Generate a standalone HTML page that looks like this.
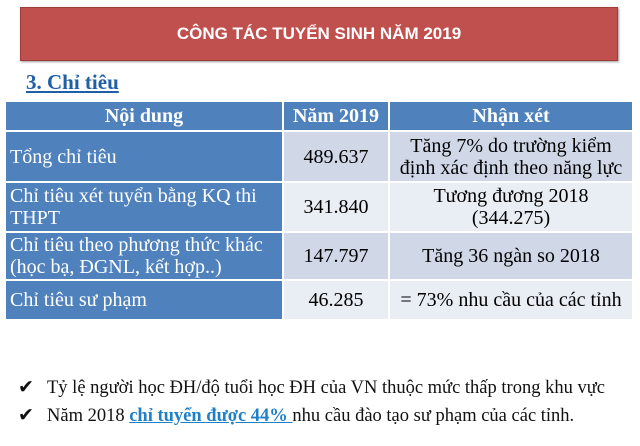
<!DOCTYPE html>
<html><head><meta charset="utf-8"><style>
body{margin:0;width:640px;height:446px;background:#fff;position:relative;overflow:hidden;font-family:"Liberation Serif",serif}
.banner{position:absolute;left:20px;top:7px;width:598px;height:54px;background:#c0504d;border:1px solid #a03c39;box-sizing:border-box;color:#fff;font:bold 17px "Liberation Sans",sans-serif;text-align:center;line-height:52px;box-shadow:1px 1px 2px #999}
.h3{position:absolute;left:26px;top:70px;font-weight:bold;font-size:21px;color:#1f5fa8;text-decoration:underline}
table{position:absolute;left:4px;top:100px;width:630px;border-collapse:collapse;font-size:20px}
td{border:2px solid #fff;padding:0 4px;line-height:22px}
.hd td{background:#4f81bd;color:#fff;font-weight:bold;text-align:center;height:28px}
.c1{background:#4f81bd;color:#fff;width:268px}
.a td.v{background:#d0d8e8;text-align:center}
.b td.v{background:#e9edf4;text-align:center}
.bl{position:absolute;left:18px;font-size:18.5px;color:#111;white-space:nowrap}
.bl span.ck{display:inline-block;width:29px;font-family:"DejaVu Sans",sans-serif;font-size:19px}
a{color:#1f7fc8;font-weight:bold;text-decoration:underline}
</style></head><body>
<div class="banner">CÔNG TÁC TUYỂN SINH NĂM 2019</div>
<div class="h3">3. Chỉ tiêu</div>
<table>
<tr class="hd"><td style="width:268px">Nội dung</td><td style="width:96px">Năm 2019</td><td>Nhận xét</td></tr>
<tr class="a" style="height:51px"><td class="c1">Tổng chỉ tiêu</td><td class="v">489.637</td><td class="v">Tăng 7% do trường kiểm định xác định theo năng lực</td></tr>
<tr class="b" style="height:50px"><td class="c1">Chỉ tiêu xét tuyển bằng KQ thi THPT</td><td class="v">341.840</td><td class="v">Tương đương 2018<br>(344.275)</td></tr>
<tr class="a" style="height:48px"><td class="c1">Chỉ tiêu theo phương thức khác (học bạ, ĐGNL, kết hợp..)</td><td class="v">147.797</td><td class="v">Tăng 36 ngàn so 2018</td></tr>
<tr class="b" style="height:40px"><td class="c1">Chỉ tiêu sư phạm</td><td class="v">46.285</td><td class="v">= 73% nhu cầu của các tỉnh</td></tr>
</table>
<div class="bl" style="top:376px"><span class="ck">✔</span>Tỷ lệ người học ĐH/độ tuổi học ĐH của VN thuộc mức thấp trong khu vực</div>
<div class="bl" style="top:404px"><span class="ck">✔</span>Năm 2018 <a>chỉ tuyển được 44% </a>nhu cầu đào tạo sư phạm của các tỉnh.</div>
</body></html>
